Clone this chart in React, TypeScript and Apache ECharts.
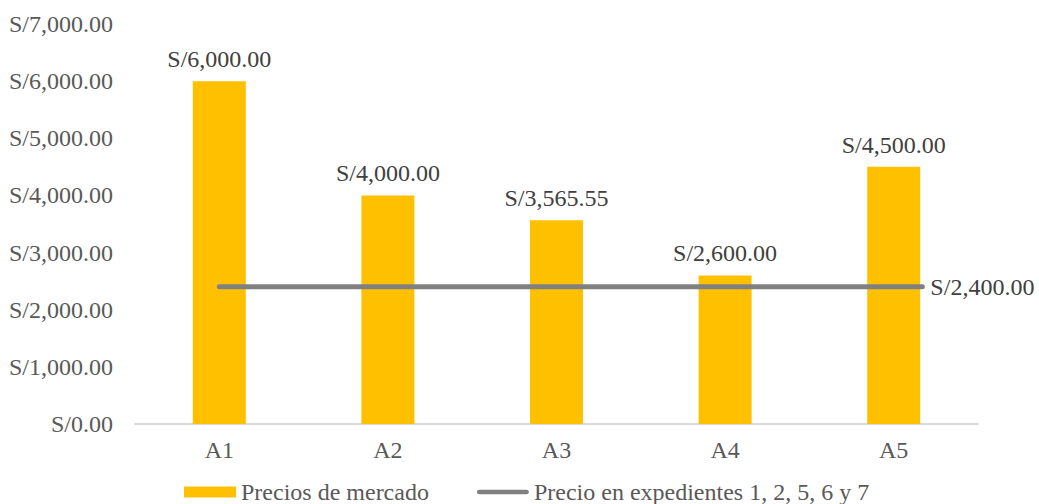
import React, { useEffect, useRef } from "react";
import * as echarts from "echarts";

const categories = ["A1", "A2", "A3", "A4", "A5"];
const marketPrices = [6000, 4000, 3565.55, 2600, 4500];
const fileValue = 2400;
// line runs from the first category position to just past the last (category index units)
const fileLineX = [0, 4.17];
const yTicks = [0, 1000, 2000, 3000, 4000, 5000, 6000, 7000];

const FONT = '"Liberation Serif", "Times New Roman", serif';
const fmt = (v: number) =>
  "S/" + v.toLocaleString("en-US", { minimumFractionDigits: 2, maximumFractionDigits: 2 });

export default function App() {
  const ref = useRef<HTMLDivElement>(null);
  useEffect(() => {
    if (!ref.current) return;
    const chart = echarts.init(ref.current, null, { renderer: "svg" });
    chart.setOption({
      animation: false,
      textStyle: { fontFamily: FONT },
      grid: { left: 135, right: 61, top: 24, bottom: 80, containLabel: false },
      legend: {
        left: 184,
        top: 480,
        itemGap: 48,
        itemWidth: 52,
        itemHeight: 11,
        padding: 0,
        textStyle: { fontFamily: FONT, fontSize: 24, lineHeight: 24, color: "#595959" },
        data: [
          { name: "Precios de mercado", icon: "rect" },
          {
            name: "Precio en expedientes 1, 2, 5, 6 y 7",
            icon: "path://M2.5,0 L52.5,0 A2.5,2.5 0 0 1 52.5,5 L2.5,5 A2.5,2.5 0 0 1 2.5,0 Z",
          },
        ],
      },
      xAxis: [
        {
          type: "category",
          data: categories,
          axisLine: { lineStyle: { color: "#D9D9D9", width: 2 } },
          axisTick: { show: false },
          axisLabel: { fontFamily: FONT, fontSize: 24, color: "#595959", margin: 14 },
        },
        {
          type: "value",
          min: -0.5,
          max: categories.length - 0.5,
          show: false,
        },
      ],
      yAxis: {
        type: "value",
        min: yTicks[0],
        max: yTicks[yTicks.length - 1],
        interval: 1000,
        splitLine: { show: false },
        axisLine: { show: false },
        axisTick: { show: false },
        axisLabel: {
          fontFamily: FONT,
          fontSize: 24,
          color: "#595959",
          margin: 22,
          formatter: (v: number) => fmt(v),
        },
      },
      series: [
        {
          name: "Precios de mercado",
          type: "bar",
          data: marketPrices,
          barWidth: 53,
          itemStyle: { color: "#FFC000" },
          label: {
            show: true,
            position: "top",
            distance: 10,
            fontFamily: FONT,
            fontSize: 24,
            color: "#404040",
            formatter: (p: any) => fmt(p.value),
          },
        },
        {
          name: "Precio en expedientes 1, 2, 5, 6 y 7",
          type: "line",
          xAxisIndex: 1,
          data: fileLineX.map((x) => [x, fileValue]),
          symbol: "none",
          itemStyle: { color: "#808080" },
          lineStyle: { color: "#808080", width: 5, cap: "round" },
          endLabel: {
            show: true,
            distance: 8,
            fontFamily: FONT,
            fontSize: 24,
            color: "#404040",
            formatter: (p: any) => fmt(p.value[1]),
          },
        },
      ],
    });
    return () => chart.dispose();
  }, []);
  return <div ref={ref} style={{ width: 1039, height: 504, position: "absolute", left: 0, top: 0 }} />;
}
